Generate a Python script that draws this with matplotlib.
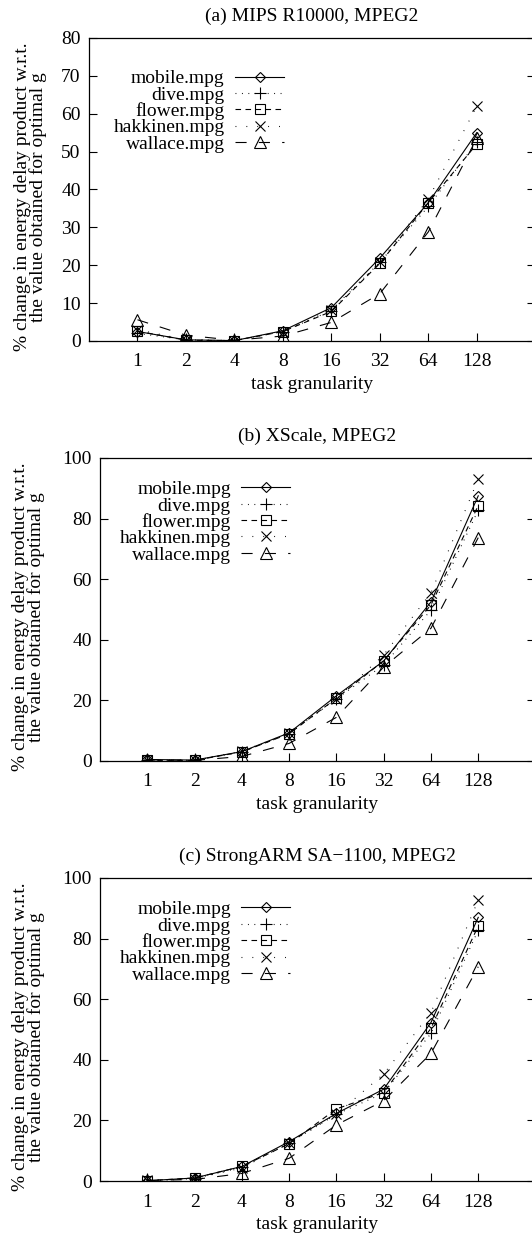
import matplotlib
matplotlib.use("Agg")
import matplotlib.pyplot as plt
import numpy as np

plt.rcParams["font.family"] = ["Liberation Serif", "DejaVu Serif"]
plt.rcParams["font.size"] = 14

# ----------------------------
# DATOS
# ----------------------------
granularidad = ["1", "2", "4", "8", "16", "32", "64", "128"]
videos = ["mobile.mpg", "dive.mpg", "flower.mpg", "hakkinen.mpg", "wallace.mpg"]

titulos = ["(a) MIPS R10000, MPEG2", "(b) XScale, MPEG2", "(c) StrongARM SA\u22121100, MPEG2"]

# (a) MIPS R10000
mips_mobile = [2.5, 0.3, 0.1, 2.7, 8.8, 21.9, 36.5, 55.0]
mips_dive = [2.0, 0.3, 0.1, 2.5, 8.0, 20.8, 35.5, 52.5]
mips_flower = [2.6, 0.2, 0.1, 2.5, 7.8, 20.5, 36.5, 52.0]
mips_hakkinen = [3.0, 0.3, 0.1, 2.5, 8.2, 20.8, 37.5, 62.0]
mips_wallace = [5.6, 1.5, 0.2, 1.3, 4.9, 12.5, 28.8, 53.5]

# (b) XScale
xscale_mobile = [0.5, 0.3, 3.1, 9.3, 21.5, 33.0, 52.5, 87.5]
xscale_dive = [0.3, 0.2, 3.0, 9.0, 20.5, 31.7, 49.8, 82.8]
xscale_flower = [0.2, 0.2, 3.0, 9.0, 20.7, 33.1, 51.5, 84.3]
xscale_hakkinen = [0.3, 0.3, 3.2, 9.2, 20.5, 35.0, 55.5, 93.0]
xscale_wallace = [0.4, 0.2, 1.5, 5.8, 14.4, 31.0, 43.8, 73.7]

# (c) StrongARM SA-1100
sarm_mobile = [0.1, 1.0, 4.8, 13.0, 22.3, 30.3, 52.3, 87.0]
sarm_dive = [0.0, 0.8, 4.5, 12.5, 22.0, 29.0, 48.7, 82.8]
sarm_flower = [0.1, 1.0, 4.8, 12.3, 23.8, 29.2, 50.4, 84.2]
sarm_hakkinen = [0.2, 0.8, 4.3, 12.5, 22.0, 35.3, 55.6, 92.7]
sarm_wallace = [0.2, 0.5, 2.5, 7.5, 18.5, 26.5, 42.1, 70.7]

paneles = [
    [mips_mobile, mips_dive, mips_flower, mips_hakkinen, mips_wallace],
    [xscale_mobile, xscale_dive, xscale_flower, xscale_hakkinen, xscale_wallace],
    [sarm_mobile, sarm_dive, sarm_flower, sarm_hakkinen, sarm_wallace],
]
y_max = [80, 100, 100]
y_paso = [10, 20, 20]

# estilos tipo gnuplot: linea, marcador
ESTILOS = [
    dict(linestyle="-", marker="D", markersize=5.5),
    dict(linestyle=(0, (0.8, 5)), marker="+", markersize=9),
    dict(linestyle=(0, (5, 4)), marker="s", markersize=7.5),
    dict(linestyle=(0, (0.8, 9)), marker="x", markersize=7.5),
    dict(linestyle=(0, (10, 11)), marker="^", markersize=8.5),
]

# posiciones de los ejes en fracciones de figura
POS = [
    [0.1673, 0.7248, 0.8383, 0.2446],
    [0.188, 0.3858, 0.8176, 0.2446],
    [0.188, 0.0468, 0.8176, 0.2446],
]
LEG_TOP = [0.895, 0.925, 0.925]
YLAB_X = [-0.132, -0.165, -0.165]

fig = plt.figure(figsize=(5.32, 12.39), dpi=100)
x = np.arange(1, len(granularidad) + 1)

for i, series in enumerate(paneles):
    ax = fig.add_axes(POS[i])
    for nombre, valores, estilo in zip(videos, series, ESTILOS):
        ax.plot(x, valores, color="black", linewidth=0.8, markerfacecolor="none",
                markeredgewidth=0.8, label=nombre, **estilo)

    ax.set_xlim(0, 9.2)
    ax.set_ylim(0, y_max[i])
    ax.set_xticks(x)
    ax.set_xticklabels(granularidad)
    ax.set_yticks(np.arange(0, y_max[i] + 1, y_paso[i]))
    ax.tick_params(axis="y", direction="in", length=6, width=0.8, left=True, right=True, pad=6)
    ax.tick_params(axis="x", direction="in", length=6, width=0.8, top=False, pad=9)
    for s in ax.spines.values():
        s.set_linewidth(0.9)

    ax.set_title(titulos[i], fontsize=14, pad=12)
    ax.set_xlabel("task granularity", fontsize=14, labelpad=4)
    ax.set_ylabel("% change in energy delay product w.r.t.\nthe value obtained for optimal g",
                  fontsize=14, linespacing=0.85, va="center")
    ax.yaxis.set_label_coords(YLAB_X[i], 0.475)

    leg = ax.legend(loc="upper right", bbox_to_anchor=(0.437, LEG_TOP[i]), frameon=False,
                    markerfirst=False, handlelength=2.5, handletextpad=0.55,
                    labelspacing=-0.07, borderpad=0, borderaxespad=0, fontsize=14)
    # texto alineado a la derecha como en gnuplot
    for col in leg._legend_box.get_children()[1].get_children():
        col.align = "right"

fig.savefig("out.png", dpi=100)
